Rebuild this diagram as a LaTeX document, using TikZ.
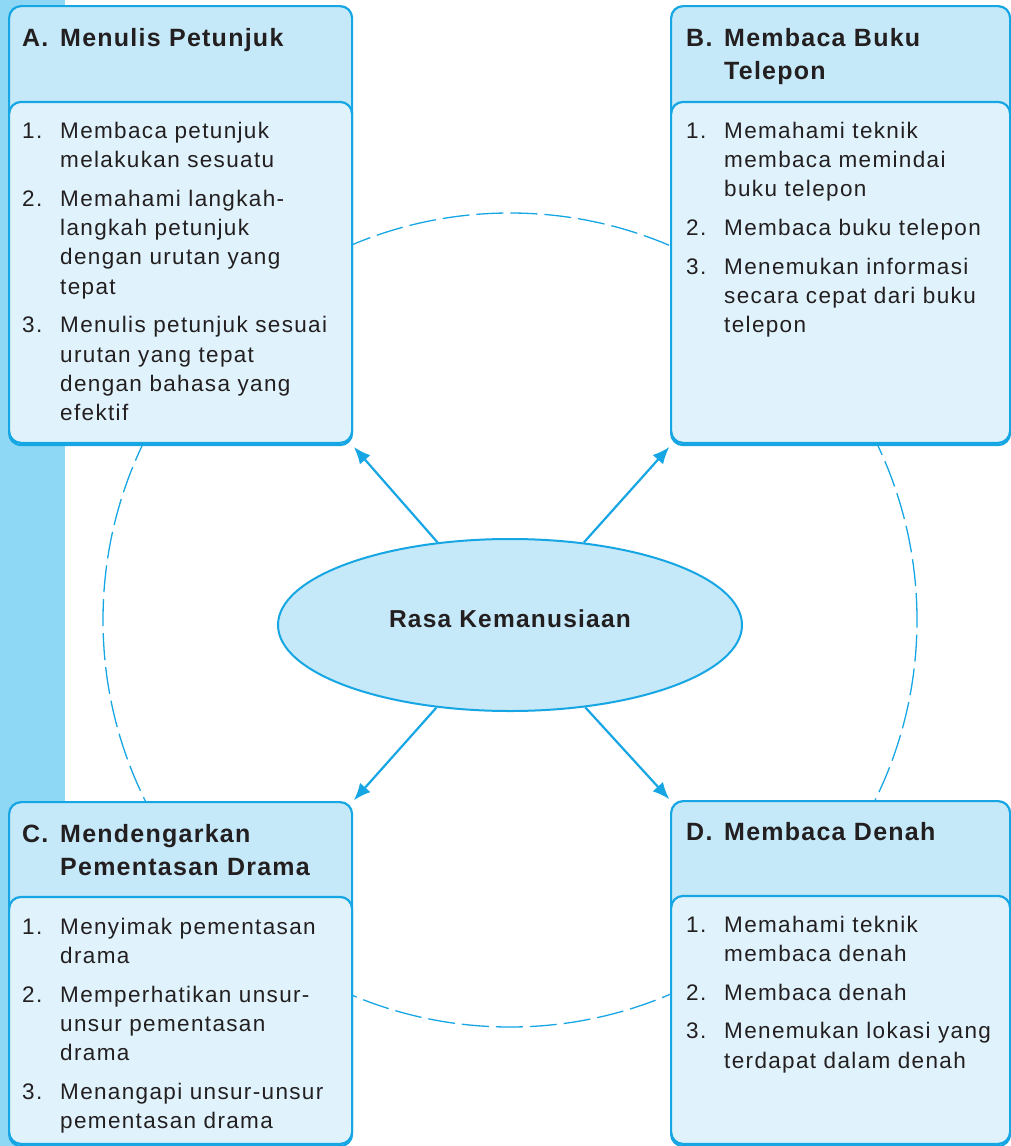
\documentclass[tikz,border=0pt]{standalone}
\usepackage{fontspec}
\setmainfont{Liberation Sans}
\newfontfamily\bodyfont[LetterSpace=6,WordSpace=1.4]{Liberation Sans}
\newfontfamily\headfont[LetterSpace=5]{Liberation Sans}
\usetikzlibrary{shapes.geometric,arrows.meta}

\definecolor{cyanline}{HTML}{17A6E4}
\definecolor{headfill}{HTML}{C6E9F9}
\definecolor{bodyfill}{HTML}{E0F3FC}
\definecolor{stripfill}{HTML}{8ED8F6}
\definecolor{ink}{HTML}{231F20}

% numbered entry with a hanging indent; \nitm adds the gap between entries
\newcommand\itm[2]{\hangindent=38pt\hangafter=1\noindent\makebox[38pt][l]{#1}#2\par}
\newcommand\nitm[2]{\vspace{9.5pt}\itm{#1}{#2}}

\tikzset{
  boxhead/.style={draw=cyanline, fill=headfill, line width=2.2pt, rounded corners=12pt,
    rectangle, inner sep=0pt, anchor=north west},
  boxbody/.style={draw=cyanline, fill=bodyfill, line width=2.2pt, rounded corners=12pt,
    rectangle, inner sep=0pt, anchor=south west},
  headtext/.style={text width=330pt, align=left, inner sep=0pt, anchor=base west, text=ink,
    font=\headfont\bfseries\fontsize{25}{33}\selectfont},
  listtext/.style={text width=330pt, align=left, inner sep=0pt, anchor=base west, text=ink,
    font=\bodyfont\fontsize{22.5}{29.3}\selectfont},
  link/.style={draw=cyanline, line width=2.2pt, -{Latex[length=17pt,width=14pt]}, shorten >=1pt},
  ring/.style={draw=cyanline, line width=1.3pt, dash pattern=on 27pt off 7pt},
}

\begin{document}
\begin{tikzpicture}[x=1pt,y=-1pt]
  \clip (0,0) rectangle (1011,1146);
  \fill[white] (0,0) rectangle (1011,1146);

  % side band
  \fill[stripfill] (0,0) rectangle (65,1146);

  % dashed ring around the centre
  \coordinate (ringc) at (510,620);
  \draw[ring] (ringc) circle[radius=407pt];

  % four topic boxes: header panel with a list panel on top
  \node[boxhead, minimum width=343pt, minimum height=439pt] (A) at (8,5) {};
  \node[boxbody, minimum width=343pt, minimum height=341pt] (Abody) at (8,444) {};
  \node[boxhead, minimum width=339pt, minimum height=439pt] (B) at (670,5) {};
  \node[boxbody, minimum width=339pt, minimum height=341pt] (Bbody) at (670,444) {};
  \node[boxhead, minimum width=343pt, minimum height=344pt] (C) at (8,801) {};
  \node[boxbody, minimum width=343pt, minimum height=247pt] (Cbody) at (8,1145) {};
  \node[boxhead, minimum width=339pt, minimum height=345pt] (D) at (670,800) {};
  \node[boxbody, minimum width=339pt, minimum height=248pt] (Dbody) at (670,1145) {};

  % centre
  \node[ellipse, draw=cyanline, fill=headfill, line width=2pt,
        minimum width=464pt, minimum height=172pt, inner sep=0pt] (ell) at (510,625) {};
  \node[anchor=base, inner sep=0pt, text=ink,
        font=\headfont\bfseries\fontsize{24.5}{30}\selectfont] (ellText) at (510,627) {Rasa Kemanusiaan};

  % connectors
  \draw[link] (ell) -- (A.south east);
  \draw[link] (ell) -- (B.south west);
  \draw[link] (ell) -- (C.north east);
  \draw[link] (ell) -- (D.north west);

  % box A
  \node[headtext] (Atitle) at (22,46) {\itm{A.}{Menulis Petunjuk}};
  \node[listtext] (Alist) at (22,138) {%
    \itm{1.}{Membaca petunjuk\newline melakukan sesuatu}%
    \nitm{2.}{Memahami langkah-\newline langkah petunjuk\newline dengan urutan yang\newline tepat}%
    \nitm{3.}{Menulis petunjuk sesuai\newline urutan yang tepat\newline dengan bahasa yang\newline efektif}};

  % box B
  \node[headtext] (Btitle) at (686,46) {\itm{B.}{Membaca Buku\newline Telepon}};
  \node[listtext] (Blist) at (686,138) {%
    \itm{1.}{Memahami teknik\newline membaca memindai\newline buku telepon}%
    \nitm{2.}{Membaca buku telepon}%
    \nitm{3.}{Menemukan informasi\newline secara cepat dari buku\newline telepon}};

  % box C
  \node[headtext] (Ctitle) at (22,842) {\itm{C.}{Mendengarkan\newline Pementasan Drama}};
  \node[listtext] (Clist) at (22,934) {%
    \itm{1.}{Menyimak pementasan\newline drama}%
    \nitm{2.}{Memperhatikan unsur-\newline unsur pementasan\newline drama}%
    \nitm{3.}{Menangapi unsur-unsur\newline pementasan drama}};

  % box D
  \node[headtext] (Dtitle) at (686,840) {\itm{D.}{Membaca Denah}};
  \node[listtext] (Dlist) at (686,932) {%
    \itm{1.}{Memahami teknik\newline membaca denah}%
    \nitm{2.}{Membaca denah}%
    \nitm{3.}{Menemukan lokasi yang\newline terdapat dalam denah}};
\end{tikzpicture}
\end{document}
